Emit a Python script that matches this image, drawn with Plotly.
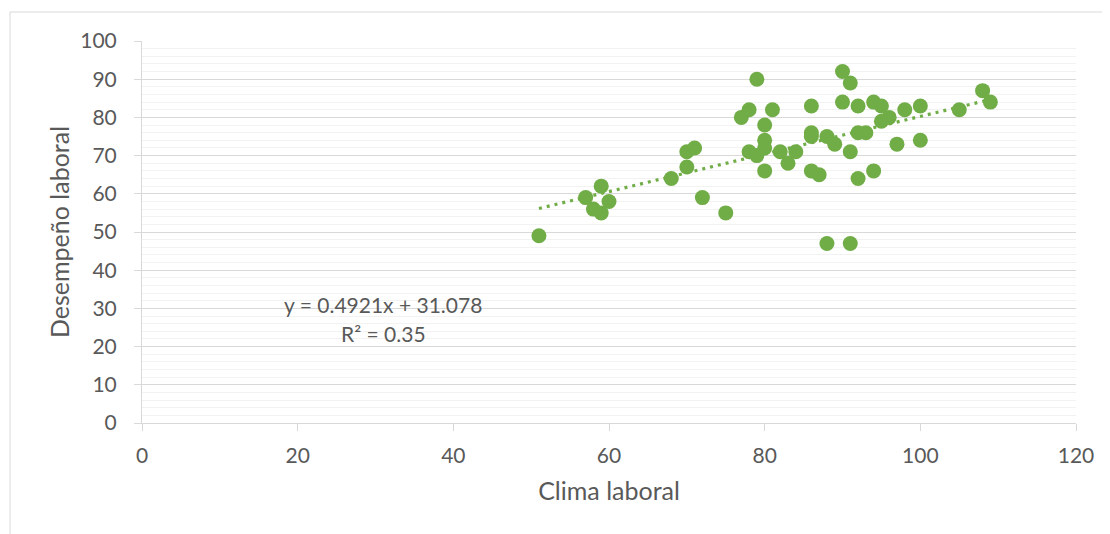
import numpy as np
import plotly.graph_objects as go

clima = [51, 57, 58, 59, 59, 60, 68, 70, 70, 71, 72, 75, 77, 78, 79, 78, 79,
         80, 80, 80, 80, 81, 82, 83, 84, 86, 86, 86, 86, 87, 88, 88, 89, 90,
         91, 90, 91, 91, 92, 92, 92, 93, 94, 94, 95, 95, 96, 97, 98, 100, 100,
         105, 108, 109]
desempeno = [49, 59, 56, 62, 55, 58, 64, 71, 67, 72, 59, 55, 80, 82, 90, 71, 70,
             78, 74, 72, 66, 82, 71, 68, 71, 83, 76, 75, 66, 65, 75, 47, 73, 92,
             89, 84, 71, 47, 83, 76, 64, 76, 84, 66, 83, 79, 80, 73, 82, 83, 74,
             82, 87, 84]

x_ticks = [0, 20, 40, 60, 80, 100, 120]
y_ticks = [0, 10, 20, 30, 40, 50, 60, 70, 80, 90, 100]
eq_text = "y = 0.4921x + 31.078"
r2_text = "R² = 0.35"
x_title = "Clima laboral"
y_title = "Desempeño laboral"

GREEN = "#70AD47"
TXT = "#595959"
FONT = "Lato, Open Sans, sans-serif"

slope, intercept = np.polyfit(clima, desempeno, 1)
tx = np.array([min(clima), max(clima)])
ty = slope * tx + intercept

fig = go.Figure()
fig.add_trace(go.Scatter(x=tx, y=ty, mode="lines",
                         line=dict(color=GREEN, width=3.2, dash="3px,5px"),
                         hoverinfo="skip", showlegend=False))
fig.add_trace(go.Scatter(x=clima, y=desempeno, mode="markers",
                         marker=dict(color=GREEN, size=15, line=dict(width=0)),
                         showlegend=False))

fig.add_annotation(x=31.0, y=31.15, text=eq_text, showarrow=False,
                   font=dict(family=FONT, size=21, color=TXT))
fig.add_annotation(x=31.0, y=23.3, text=r2_text, showarrow=False,
                   font=dict(family=FONT, size=21, color=TXT))

W, H = 1102, 526
L, T = 134, 33
pw, ph = 934, 382
R, B = W - L - pw, H - T - ph
# outer chart border
fig.add_shape(type="rect", xref="paper", yref="paper",
              x0=(2 - L) / pw, x1=(W + 6 - L) / pw,
              y0=(T + ph - (H + 6)) / ph, y1=(T + ph - 4) / ph,
              line=dict(color="#D9D9D9", width=1), fillcolor="rgba(0,0,0,0)",
              layer="below")

fig.update_layout(
    width=W, height=H,
    margin=dict(l=L, r=R, t=T, b=B),
    paper_bgcolor="white", plot_bgcolor="white",
    font=dict(family=FONT, color=TXT),
    xaxis=dict(range=[0, 120], tickvals=x_ticks, showgrid=False, zeroline=False,
               showline=True, linecolor="#D9D9D9", linewidth=1,
               ticks="outside", ticklen=7, tickcolor="#D9D9D9",
               tickfont=dict(size=21, color=TXT), ticklabelstandoff=7,
               title=dict(text=x_title, font=dict(size=25, color=TXT), standoff=16)),
    yaxis=dict(range=[0, 100], tickvals=y_ticks, showgrid=True, gridcolor="#D9D9D9",
               zeroline=False, showline=True, linecolor="#D9D9D9", linewidth=1,
               ticks="outside", ticklen=7, tickcolor="#D9D9D9",
               tickfont=dict(size=21, color=TXT), ticklabelstandoff=13,
               minor=dict(dtick=2, showgrid=True, gridcolor="#F2F2F2"),
               title=dict(text=y_title, font=dict(size=25, color=TXT), standoff=3)),
)

fig.write_html("out.html")
